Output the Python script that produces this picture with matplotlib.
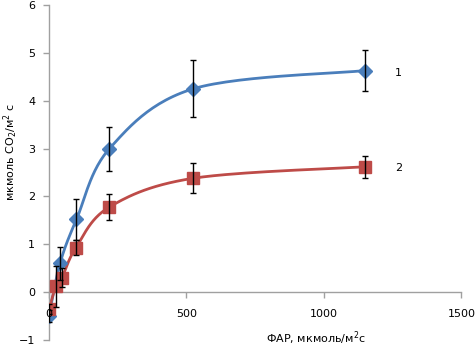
import numpy as np
import matplotlib
matplotlib.use("Agg")
import matplotlib.pyplot as plt

# data
x1 = [0, 40, 100, 220, 525, 1150]
y1 = [-0.50, 0.60, 1.52, 3.00, 4.25, 4.63]
e1 = [0.12, 0.35, 0.43, 0.46, 0.60, 0.42]

x2 = [0, 25, 47, 98, 220, 525, 1150]
y2 = [-0.35, 0.12, 0.30, 0.93, 1.78, 2.38, 2.62]
e2 = [0.10, 0.42, 0.20, 0.15, 0.27, 0.31, 0.23]

xticks = [0, 500, 1000, 1500]
yticks = [-1, 0, 1, 2, 3, 4, 5, 6]

BLUE = "#4A7EBB"
RED = "#BE4B48"

def smooth(xs, ys, sx, sy, n=30):
    # Catmull-Rom spline in scaled (screen-like) coordinates
    P = np.column_stack([np.array(xs) * sx, np.array(ys) * sy])
    P = np.vstack([P[0], P, P[-1]])
    out = []
    for i in range(1, len(P) - 2):
        p0, p1, p2, p3 = P[i - 1], P[i], P[i + 1], P[i + 2]
        c1 = p1 + (p2 - p0) / 6
        c2 = p2 - (p3 - p1) / 6
        t = np.linspace(0, 1, n)[:, None]
        seg = (1 - t) ** 3 * p1 + 3 * (1 - t) ** 2 * t * c1 + 3 * (1 - t) * t ** 2 * c2 + t ** 3 * p2
        out.append(seg)
    out = np.vstack(out)
    return out[:, 0] / sx, out[:, 1] / sy

fig = plt.figure(figsize=(4.77, 3.47), dpi=100)
ax = fig.add_axes([49 / 477, 7 / 347, (461.5 - 49) / 477, (340 - 5) / 347])
ax.set_xlim(0, 1500)
ax.set_ylim(-1, 6)

sx = 412.5 / 1500
sy = 335 / 7

for xs, ys, es, c, m, ms in [(x1, y1, e1, BLUE, "D", 7.5), (x2, y2, e2, RED, "s", 8.5)]:
    cx, cy = smooth(xs, ys, sx, sy)
    ax.plot(cx, cy, color=c, lw=2, zorder=2)
    ax.errorbar(xs, ys, yerr=es, fmt="none", ecolor="black", elinewidth=1,
                capsize=2.5, capthick=1, zorder=4)
    ax.plot(xs, ys, linestyle="none", marker=m, color=c, markersize=ms,
            markeredgecolor=c, zorder=3)

for s in ["top", "right"]:
    ax.spines[s].set_visible(False)
ax.spines["bottom"].set_position(("data", 0))
for s in ["left", "bottom"]:
    ax.spines[s].set_color("#A0A0A0")
    ax.spines[s].set_linewidth(1)

ax.set_xticks(xticks)
ax.set_yticks(yticks)
ax.tick_params(axis="both", colors="#A0A0A0", length=4, width=1, labelcolor="black", labelsize=8)
ax.tick_params(axis="x", pad=8)
ax.tick_params(axis="y", pad=6)
ax.xaxis.set_zorder(5)

ax.text(1258, 4.57, "1", fontsize=8, va="center")
ax.text(1258, 2.59, "2", fontsize=8, va="center")

fig.text(316 / 477, 1 - 338 / 347, "ФАР, мкмоль/м$^2$с", fontsize=8, ha="center", va="center")
fig.text(11 / 477, 1 - 152 / 347, "мкмоль CO$_2$/м$^2$ с", fontsize=8, ha="center", va="center", rotation=90)

fig.savefig("out.png", dpi=100)
